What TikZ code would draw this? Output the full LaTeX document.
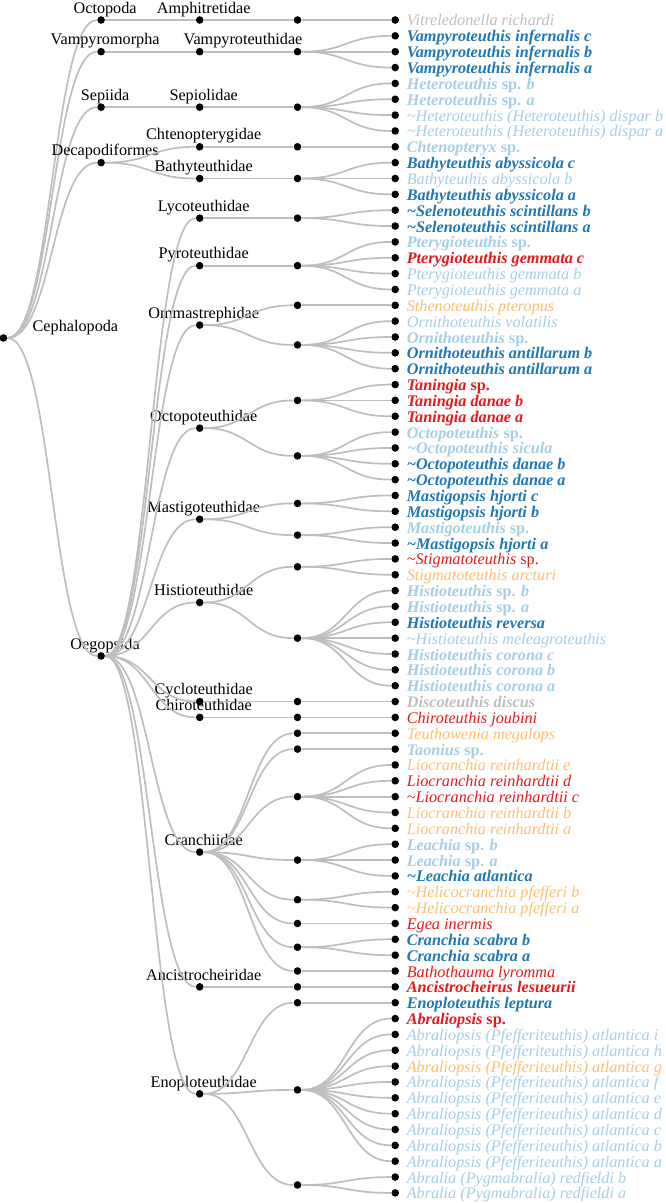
\documentclass[tikz,border=0pt]{standalone}
\usepackage{fontspec}
\setmainfont{Liberation Serif}
\usetikzlibrary{positioning}
\definecolor{branchGrey}{RGB}{190,190,190}
\definecolor{tipGrey}{RGB}{190,190,190}
\definecolor{tipBlue}{RGB}{31,120,180}
\definecolor{tipLight}{RGB}{166,206,227}
\definecolor{tipRed}{RGB}{227,26,28}
\definecolor{tipOrange}{RGB}{253,191,111}
\newcommand{\tipfont}{\fontsize{8.1}{9.5}\selectfont\itshape}
\newcommand{\tipboldfont}{\fontsize{8.1}{9.5}\selectfont\bfseries\itshape}
\newcommand{\spec}{\textup{sp.}}
\newcommand{\approxmark}{\textasciitilde}
\tikzset{
  nodedot/.style={circle, fill=black, inner sep=0pt, minimum size=3.8pt},
  branch/.style={draw=branchGrey, line width=0.85pt},
  cladelab/.style={font=\fontsize{8.1}{9.5}\selectfont, inner sep=0pt, text height=6pt, text depth=0pt, xshift=2pt},
  tiplab/.style={inner sep=0pt, text height=6pt, text depth=0pt},
  nGrey/.style={tiplab, text=tipGrey, font=\tipfont},
  bGrey/.style={tiplab, text=tipGrey, font=\tipboldfont},
  bBlue/.style={tiplab, text=tipBlue, font=\tipboldfont},
  bLight/.style={tiplab, text=tipLight, font=\tipboldfont},
  nLight/.style={tiplab, text=tipLight, font=\tipfont},
  bRed/.style={tiplab, text=tipRed, font=\tipboldfont},
  nRed/.style={tiplab, text=tipRed, font=\tipfont},
  nOrange/.style={tiplab, text=tipOrange, font=\tipfont}
}
\begin{document}
\begin{tikzpicture}[x=0.5pt, y=-0.5pt]
  \useasboundingbox (0,0) rectangle (665,1203);
  % tips
  \foreach \i/\s/\t in {1/nGrey/{Vitreledonella richardi},
      2/bBlue/{Vampyroteuthis infernalis c}, 3/bBlue/{Vampyroteuthis infernalis b}, 4/bBlue/{Vampyroteuthis infernalis a},
      5/bLight/{Heteroteuthis \spec{} b}, 6/bLight/{Heteroteuthis \spec{} a},
      7/nLight/{\approxmark Heteroteuthis (Heteroteuthis) dispar b}, 8/nLight/{\approxmark Heteroteuthis (Heteroteuthis) dispar a},
      9/bLight/{Chtenopteryx \spec},
      10/bBlue/{Bathyteuthis abyssicola c}, 11/nLight/{Bathyteuthis abyssicola b}, 12/bBlue/{Bathyteuthis abyssicola a},
      13/bBlue/{\approxmark Selenoteuthis scintillans b}, 14/bBlue/{\approxmark Selenoteuthis scintillans a},
      15/bLight/{Pterygioteuthis \spec}, 16/bRed/{Pterygioteuthis gemmata c},
      17/nLight/{Pterygioteuthis gemmata b}, 18/nLight/{Pterygioteuthis gemmata a},
      19/nOrange/{Sthenoteuthis pteropus}, 20/nLight/{Ornithoteuthis volatilis}, 21/bLight/{Ornithoteuthis \spec},
      22/bBlue/{Ornithoteuthis antillarum b}, 23/bBlue/{Ornithoteuthis antillarum a},
      24/bRed/{Taningia \spec}, 25/bRed/{Taningia danae b}, 26/bRed/{Taningia danae a},
      27/bLight/{Octopoteuthis \spec}, 28/bLight/{\approxmark Octopoteuthis sicula},
      29/bBlue/{\approxmark Octopoteuthis danae b}, 30/bBlue/{\approxmark Octopoteuthis danae a},
      31/bBlue/{Mastigopsis hjorti c}, 32/bBlue/{Mastigopsis hjorti b},
      33/bLight/{Mastigoteuthis \spec}, 34/bBlue/{\approxmark Mastigopsis hjorti a},
      35/nRed/{\approxmark Stigmatoteuthis \spec}, 36/nOrange/{Stigmatoteuthis arcturi},
      37/bLight/{Histioteuthis \spec{} b}, 38/bLight/{Histioteuthis \spec{} a}, 39/bBlue/{Histioteuthis reversa},
      40/nLight/{\approxmark Histioteuthis meleagroteuthis},
      41/bLight/{Histioteuthis corona c}, 42/bLight/{Histioteuthis corona b}, 43/bLight/{Histioteuthis corona a},
      44/bGrey/{Discoteuthis discus}, 45/nRed/{Chiroteuthis joubini},
      46/nOrange/{Teuthowenia megalops}, 47/bLight/{Taonius \spec},
      48/nOrange/{Liocranchia reinhardtii e}, 49/nRed/{Liocranchia reinhardtii d}, 50/nRed/{\approxmark Liocranchia reinhardtii c},
      51/nOrange/{Liocranchia reinhardtii b}, 52/nOrange/{Liocranchia reinhardtii a},
      53/bLight/{Leachia \spec{} b}, 54/bLight/{Leachia \spec{} a}, 55/bBlue/{\approxmark Leachia atlantica},
      56/nOrange/{\approxmark Helicocranchia pfefferi b}, 57/nOrange/{\approxmark Helicocranchia pfefferi a},
      58/nRed/{Egea inermis}, 59/bBlue/{Cranchia scabra b}, 60/bBlue/{Cranchia scabra a},
      61/nRed/{Bathothauma lyromma}, 62/bRed/{Ancistrocheirus lesueurii},
      63/bBlue/{Enoploteuthis leptura}, 64/bRed/{Abraliopsis \spec},
      65/nLight/{Abraliopsis (Pfefferiteuthis) atlantica i}, 66/nLight/{Abraliopsis (Pfefferiteuthis) atlantica h},
      67/nOrange/{Abraliopsis (Pfefferiteuthis) atlantica g}, 68/nLight/{Abraliopsis (Pfefferiteuthis) atlantica f},
      69/nLight/{Abraliopsis (Pfefferiteuthis) atlantica e}, 70/nLight/{Abraliopsis (Pfefferiteuthis) atlantica d},
      71/nLight/{Abraliopsis (Pfefferiteuthis) atlantica c}, 72/nLight/{Abraliopsis (Pfefferiteuthis) atlantica b},
      73/nLight/{Abraliopsis (Pfefferiteuthis) atlantica a},
      74/nLight/{Abralia (Pygmabralia) redfieldi b}, 75/nLight/{Abralia (Pygmabralia) redfieldi a}}{
    \node[nodedot] (l\i) at (395.2, {20+(\i-1)*15.85}) {};
    \node[\s, right=3.5pt of l\i] (t\i) {\t};
  }
  % genus level
  \foreach \g/\a/\b in {1/1/1, 2/2/4, 3/5/8, 4/9/9, 5/10/12, 6/13/14, 7/15/18, 8/19/19, 9/20/23,
      10/24/26, 11/27/30, 12/31/32, 13/33/34, 14/35/36, 15/37/43, 16/44/44, 17/45/45, 18/46/46,
      19/47/47, 20/48/52, 21/53/55, 22/56/57, 23/58/58, 24/59/60, 25/61/61, 26/62/62, 27/63/63,
      28/64/73, 29/74/75}{
    \node[nodedot] (g\g) at (297.5, {20+((\a+\b)/2-1)*15.85}) {};
    \foreach \i in {\a,...,\b}
      \draw[branch] (g\g) .. controls +(49,0) and +(-49,0) .. (l\i);
  }
  % families
  \foreach \fam/\k/\a/\b/\dx in {Amphitretidae/1/1/1/0, Vampyroteuthidae/3/2/2/19.65,
      Sepiolidae/6.5/3/3/0, Chtenopterygidae/9/4/4/0, Bathyteuthidae/11/5/5/0,
      Lycoteuthidae/13.5/6/6/0, Pyroteuthidae/16.5/7/7/0, Ommastrephidae/20.25/8/9/0,
      Octopoteuthidae/26.75/10/11/0, Mastigoteuthidae/32.5/12/13/0, Histioteuthidae/37.75/14/15/0,
      Cycloteuthidae/44/16/16/0, Chiroteuthidae/45/17/17/0, Cranchiidae/53.5/18/25/0,
      Ancistrocheiridae/62/26/26/0, Enoploteuthidae/68.75/27/29/0}{
    \node[nodedot] (\fam) at (199.7, {20+(\k-1)*15.85}) {};
    \node[cladelab, above=1.1pt of \fam, xshift=\dx pt] (\fam-lab) {\fam};
    \foreach \g in {\a,...,\b}
      \draw[branch] (\fam) .. controls +(49,0) and +(-49,0) .. (g\g);
  }
  % orders and root
  \node[nodedot] (Cephalopoda) at (3.4, {20+20.0625*15.85}) {};
  \node[cladelab, above=1.1pt of Cephalopoda, xshift=34pt] (Cephalopoda-lab) {Cephalopoda};
  \foreach \ord/\k/\kids in {Octopoda/1/{Amphitretidae}, Vampyromorpha/3/{Vampyroteuthidae},
      Sepiida/6.5/{Sepiolidae}, Decapodiformes/10/{Chtenopterygidae,Bathyteuthidae},
      Oegopsida/41.125/{Lycoteuthidae,Pyroteuthidae,Ommastrephidae,Octopoteuthidae,Mastigoteuthidae,Histioteuthidae,Cycloteuthidae,Chiroteuthidae,Cranchiidae,Ancistrocheiridae,Enoploteuthidae}}{
    \node[nodedot] (\ord) at (101.1, {20+(\k-1)*15.85}) {};
    \node[cladelab, above=1.1pt of \ord] (\ord-lab) {\ord};
    \draw[branch] (Cephalopoda) .. controls +(49,0) and +(-49,0) .. (\ord);
    \foreach \c in \kids
      \draw[branch] (\ord) .. controls +(49,0) and +(-49,0) .. (\c);
  }
\end{tikzpicture}
\end{document}
